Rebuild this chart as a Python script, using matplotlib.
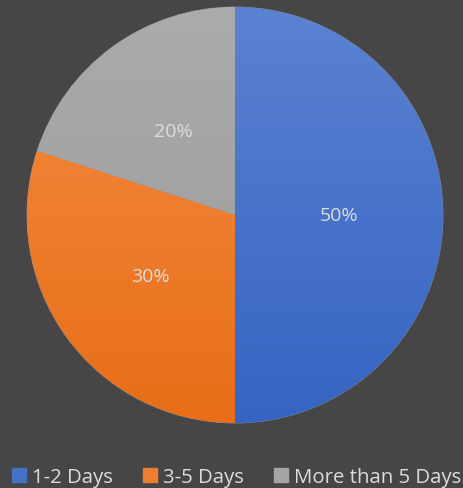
import numpy as np
import matplotlib
matplotlib.use("Agg")
import matplotlib.pyplot as plt
from matplotlib.colors import LinearSegmentedColormap

categories = ["1-2 Days", "3-5 Days", "More than 5 Days"]
shares = [50, 30, 20]
top_colors = ["#5b82d2", "#f48c42", "#ababab"]
bottom_colors = ["#3564c2", "#e86e18", "#9a9a9a"]
legend_colors = ["#4472c4", "#ed7d31", "#a5a5a5"]

bg = "#464646"
text_color = "#dcdcdc"
plt.rcParams["font.family"] = ["Open Sans", "DejaVu Sans"]

W, H = 464, 489
fig = plt.figure(figsize=(W / 100, H / 100), dpi=100, facecolor=bg)
cx, cy, r = 235, 216, 208
ax = fig.add_axes([(cx - r) / W, (H - cy - r) / H, 2 * r / W, 2 * r / H])
ax.set_facecolor(bg)

wedges, texts, autotexts = ax.pie(
    shares, startangle=90, counterclock=False, colors=legend_colors,
    autopct="%1.0f%%", pctdistance=0.5, radius=1.0,
    wedgeprops=dict(linewidth=0.6, edgecolor="#8a8a8a"),
    textprops=dict(color=text_color, fontsize=14),
)
ax.set_xlim(-1, 1)
ax.set_ylim(-1, 1)
ax.set_aspect("equal")
ax.axis("off")

# vertical gradient fill for each wedge, clipped to its shape
grad = np.linspace(0, 1, 256).reshape(-1, 1)
for w, c_top, c_bot in zip(wedges, top_colors, bottom_colors):
    cmap = LinearSegmentedColormap.from_list("g", [c_bot, c_top])
    im = ax.imshow(grad, extent=[-1, 1, -1, 1], origin="lower", cmap=cmap,
                   aspect="auto", zorder=w.get_zorder() + 0.1)
    im.set_clip_path(w)
for t in autotexts:
    t.set_zorder(5)

handles = [plt.Rectangle((0, 0), 1, 1, color=c) for c in legend_colors]
leg = fig.legend(handles, categories, loc="center",
                 bbox_to_anchor=(0.5 + 4.5 / W, 1 - 478 / H),
                 ncol=3, frameon=False, fontsize=14.7, labelcolor=text_color,
                 handlelength=0.7, handleheight=0.7, handletextpad=0.3,
                 columnspacing=1.45, borderaxespad=0, borderpad=0)

fig.savefig("out.png", dpi=100, facecolor=bg)
